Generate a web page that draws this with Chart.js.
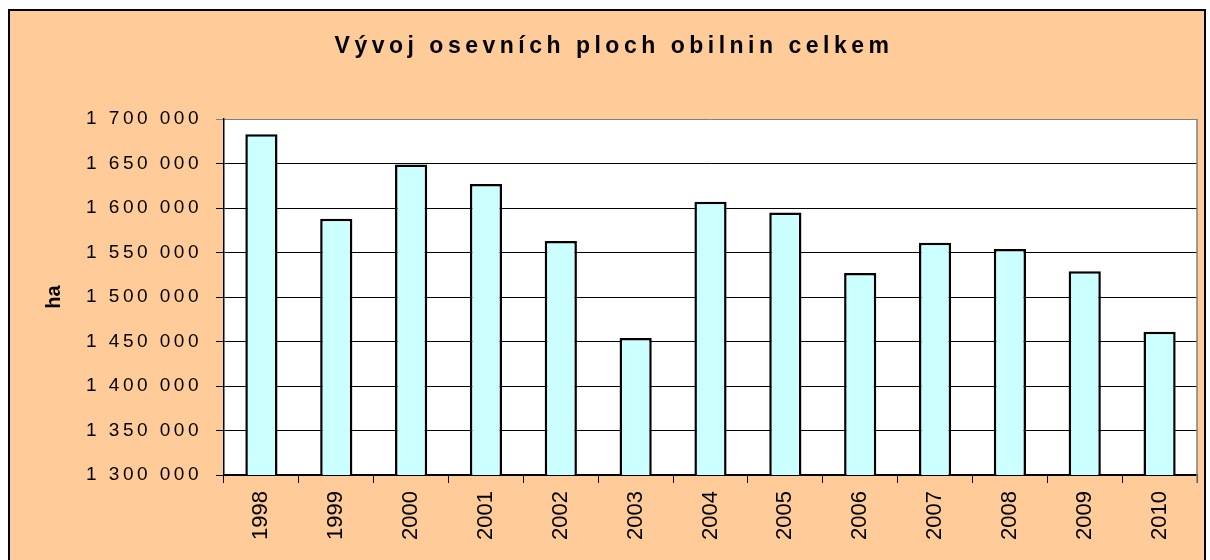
<!DOCTYPE html>
<html><head><meta charset="utf-8">
<script src="https://cdn.jsdelivr.net/npm/chart.js@4/dist/chart.umd.min.js"></script>
<style>html,body{margin:0;padding:0;background:#fff;} canvas{display:block;}</style>
</head><body>
<canvas id="c" width="1210" height="560"></canvas>
<script>
const categories = ['1998','1999','2000','2001','2002','2003','2004','2005','2006','2007','2008','2009','2010'];
const areaHa = [1683000, 1588000, 1649000, 1627000, 1563000, 1454000, 1607000, 1595000, 1527000, 1561000, 1554000, 1529000, 1461000];
const yTicks = [1300000, 1350000, 1400000, 1450000, 1500000, 1550000, 1600000, 1650000, 1700000];
const titleText = 'Vývoj osevních ploch obilnin celkem';
const yAxisTitle = 'ha';
const FONT = '"Liberation Sans", Arial, sans-serif';

function fmt(v){ return String(v).replace(/\B(?=(\d{3})+(?!\d))/g, ' '); }

const framePlugin = {
  id: 'frame',
  afterLayout(chart){
    const s = chart.scales.y;
    if (s && !s._lsPatched){
      const orig = s.drawLabels;
      s.drawLabels = function(area){
        const c = this.ctx; c.save(); c.letterSpacing = '3.5px'; orig.call(this, area); c.restore();
      };
      s._lsPatched = true;
    }
  },
  beforeDraw(chart){
    const ctx = chart.ctx, a = chart.chartArea;
    ctx.save();
    ctx.fillStyle = '#fff'; ctx.fillRect(0,0,1210,560);
    ctx.fillStyle = '#FFCC99'; ctx.fillRect(9,10,1196,560);
    ctx.strokeStyle = '#000'; ctx.lineWidth = 2; ctx.strokeRect(9,10,1196,560);
    ctx.fillStyle = '#fff'; ctx.fillRect(a.left, a.top, a.right-a.left, a.bottom-a.top);
    ctx.restore();
  },
  afterDraw(chart){
    const ctx = chart.ctx, a = chart.chartArea;
    ctx.save();
    ctx.strokeStyle = '#808080'; ctx.lineWidth = 1.5;
    ctx.beginPath(); ctx.moveTo(a.right, a.top); ctx.lineTo(a.right, a.bottom + 8); ctx.stroke();
    ctx.font = 'bold 23px ' + FONT;
    ctx.letterSpacing = '4.5px';
    ctx.fillStyle = '#000'; ctx.textAlign = 'center'; ctx.textBaseline = 'alphabetic';
    ctx.fillText(titleText, 614, 53);
    ctx.restore();
  }
};

new Chart(document.getElementById('c'), {
  type: 'bar',
  data: {
    labels: categories,
    datasets: [{
      data: areaHa,
      backgroundColor: '#CCFFFF',
      borderColor: '#000',
      borderWidth: 2.5,
      barPercentage: 0.43,
      categoryPercentage: 1.0
    }]
  },
  options: {
    responsive: false,
    animation: false,
    layout: { padding: { top: 119, right: 13, bottom: 0, left: 0 } },
    plugins: { legend: { display: false }, tooltip: { enabled: false }, title: { display: false } },
    scales: {
      x: {
        offset: true,
        grid: { offset: true, drawOnChartArea: false, drawTicks: true, tickLength: 8, color: '#000', lineWidth: 1 },
        border: { color: '#000', width: 2 },
        ticks: { autoSkip: false, minRotation: 90, maxRotation: 90, padding: 8, color: '#000', font: { family: FONT, size: 22 } },
        afterFit(s){ s.height = 85; }
      },
      y: {
        min: 1300000, max: 1700000,
        afterBuildTicks(s){ s.ticks = yTicks.map(v => ({ value: v })); },
        grid: { color: (c) => (c.tick && c.tick.value === 1700000) ? '#808080' : '#000', lineWidth: 1, tickLength: 8, drawTicks: true },
        border: { color: '#000', width: 1.5 },
        ticks: { padding: 14, color: '#000', font: { family: FONT, size: 19 }, callback: (v) => fmt(v) },
        title: { display: true, text: yAxisTitle, color: '#000', font: { family: FONT, size: 20, weight: 'bold' }, padding: { top: 42, bottom: 0 } },
        afterFit(s){ s.width = 224; }
      }
    }
  },
  plugins: [framePlugin]
});
</script>
</body></html>
